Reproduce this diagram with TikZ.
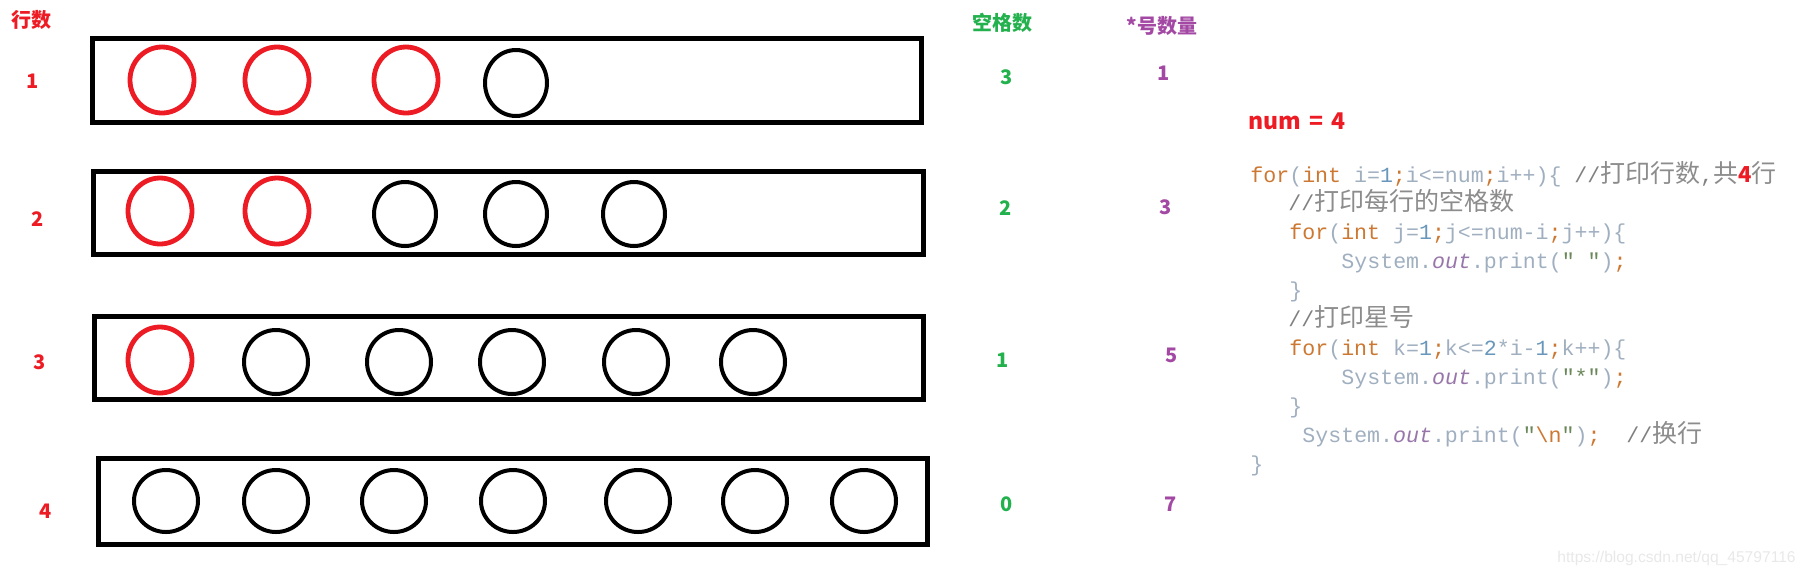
\documentclass[tikz,border=0pt]{standalone}
\usepackage{fontspec}
\setmainfont{Liberation Sans}
\newfontfamily\cjkfont{Noto Sans CJK SC}
\newfontfamily\codefont{Liberation Mono}
\definecolor{pred}{RGB}{237,28,36}
\definecolor{pgreen}{RGB}{34,177,76}
\definecolor{ppurple}{RGB}{163,73,164}
\definecolor{ckwc}{RGB}{204,120,50}
\definecolor{cidc}{RGB}{160,175,192}
\definecolor{cnumc}{RGB}{104,151,187}
\definecolor{ccomc}{RGB}{128,128,128}
\definecolor{cjkc}{RGB}{140,140,140}
\definecolor{coutc}{RGB}{152,118,170}
\definecolor{cstrc}{RGB}{106,135,89}
\newcommand\ckw[1]{\textcolor{ckwc}{#1}}
\newcommand\cid[1]{\textcolor{cidc}{#1}}
\newcommand\cnm[1]{\textcolor{cnumc}{#1}}
\newcommand\ccm[1]{\textcolor{ccomc}{#1}}
\newcommand\cfield[1]{\textcolor{coutc}{\itshape #1}}
\newcommand\cst[1]{\textcolor{cstrc}{#1}}
\newcommand\chz[1]{{\color{cjkc}\cjkfont\fontsize{12.5}{14}\selectfont #1}}
\tikzset{
  box/.style={draw=black, line width=2.5pt},
  ring/.style={draw=black, line width=2pt},
  redring/.style={draw=pred, line width=2.4pt},
  lab/.style={inner sep=0pt, font=\cjkfont\bfseries\fontsize{10}{12}\selectfont},
  code/.style={anchor=base west, inner sep=0pt, font=\codefont\fontsize{10.8}{14}\selectfont},
}
\begin{document}
\begin{tikzpicture}[x=0.5pt,y=-0.5pt]
\useasboundingbox (0,0) rectangle (1809,575);
% boxes
\draw[box] (92.5,38.5) rectangle (921.5,122.5);
\draw[box] (93.5,171.5) rectangle (923.5,254.5);
\draw[box] (94.5,316.5) rectangle (923.5,399.5);
\draw[box] (98.5,458.5) rectangle (927.5,544.5);
% row 1
\foreach \cx in {162,277,406} \draw[redring] (\cx,80) ellipse [x radius=16pt, y radius=16.5pt];
\draw[ring] (516,83) ellipse [x radius=15.5pt, y radius=16.5pt];
% row 2
\foreach \cx in {160,277} \draw[redring] (\cx,211) ellipse [x radius=16pt, y radius=16.5pt];
\foreach \cx in {405,516,634} \draw[ring] (\cx,214) ellipse [x radius=15.5pt, y radius=16pt];
% row 3
\draw[redring] (160,360) ellipse [x radius=16pt, y radius=16.5pt];
\foreach \cx in {276,399,512,636,753} \draw[ring] (\cx,362) ellipse [x radius=16pt, y radius=16pt];
% row 4
\foreach \cx in {166,276,394,513,638,755,864} \draw[ring] (\cx,501) ellipse [x radius=16pt, y radius=15.5pt];
% labels
\node[lab, text=pred] (hrow) at (31,20) {行数};
\node[lab, text=pred] (r1) at (33,81) {1};
\node[lab, text=pred] (r2) at (38,219) {2};
\node[lab, text=pred] (r3) at (40,362) {3};
\node[lab, text=pred] (r4) at (46,511) {4};
\node[lab, text=pgreen] (hsp) at (1002,23) {空格数};
\node[lab, text=pgreen] (s1) at (1007,77) {3};
\node[lab, text=pgreen] (s2) at (1006,208) {2};
\node[lab, text=pgreen] (s3) at (1003,360) {1};
\node[lab, text=pgreen] (s4) at (1007,504) {0};
\node[lab, text=ppurple] (hst) at (1162,26) {*号数量};
\node[lab, text=ppurple] (t1) at (1164,73) {1};
\node[lab, text=ppurple] (t2) at (1166,207) {3};
\node[lab, text=ppurple] (t3) at (1172,355) {5};
\node[lab, text=ppurple] (t4) at (1171,504) {7};
\node[inner sep=0pt, anchor=base west, text=pred, font=\cjkfont\bfseries\fontsize{11.5}{13}\selectfont] (num) at (1248,129) {num\hspace{4pt}=\hspace{4pt}4};
% code
\node[code] (l1) at (1250,182) {\ckw{for}\cid{(}\ckw{int}\cid{\ i=}\cnm{1}\ckw{;}\cid{i<=num}\ckw{;}\cid{i++)\{}\ \ccm{//}\chz{打印行数}\ccm{,}\chz{共}{\color{pred}\cjkfont\bfseries\fontsize{11}{14}\selectfont 4}\chz{行}};
\node[code] (l2) at (1288,210.9) {\ccm{//}\chz{打印每行的空格数}};
\node[code] (l3) at (1289,239.8) {\ckw{for}\cid{(}\ckw{int}\cid{\ j=}\cnm{1}\ckw{;}\cid{j<=num-i}\ckw{;}\cid{j++)\{}};
\node[code] (l4) at (1341,268.7) {\cid{System.}\cfield{out}\cid{.print(}\cst{"\ "}\cid{)}\ckw{;}};
\node[code] (l5) at (1289,297.6) {\cid{\}}};
\node[code] (l6) at (1288,326.5) {\ccm{//}\chz{打印星号}};
\node[code] (l7) at (1289,355.4) {\ckw{for}\cid{(}\ckw{int}\cid{\ k=}\cnm{1}\ckw{;}\cid{k<=}\cnm{2}\cid{*i-}\cnm{1}\ckw{;}\cid{k++)\{}};
\node[code] (l8) at (1341,384.3) {\cid{System.}\cfield{out}\cid{.print(}\cst{"*"}\cid{)}\ckw{;}};
\node[code] (l9) at (1289,413.2) {\cid{\}}};
\node[code] (l10) at (1302,442.1) {\cid{System.}\cfield{out}\cid{.print(}\cst{"}\ckw{\textbackslash n}\cst{"}\cid{)}\ckw{;}\ \ \ccm{//}\chz{换行}};
\node[code] (l11) at (1250,471) {\cid{\}}};
% watermark
\node[inner sep=0pt, anchor=base west, text=black!9, font=\fontsize{7.8}{9}\selectfont] (wm) at (1557,562) {https://blog.csdn.net/qq\_45797116};
\end{tikzpicture}
\end{document}
